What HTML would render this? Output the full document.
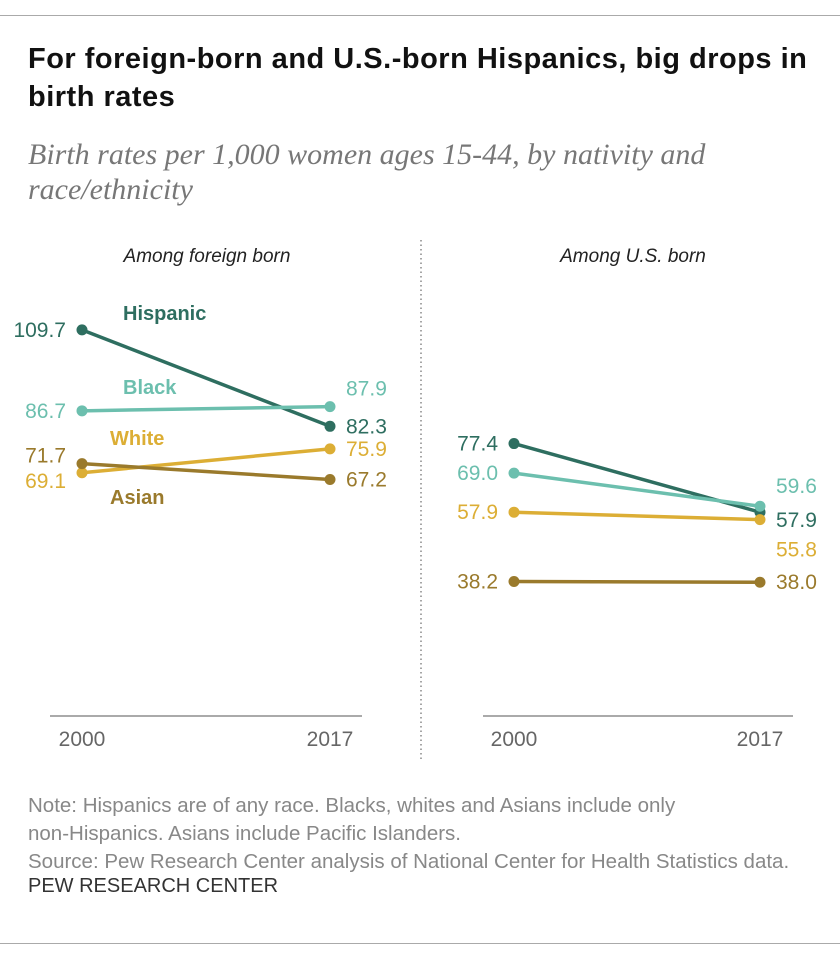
<!DOCTYPE html>
<html><head><meta charset="utf-8"><style>
body{margin:0;background:#fff;font-family:"Liberation Sans",sans-serif;}
#wrap{position:relative;width:840px;height:960px;overflow:hidden;}
.t{position:absolute;white-space:nowrap;}
</style></head><body>
<div id="wrap">
<div class="t" style="left:0;top:15px;width:840px;height:1px;background:#aaa"></div>
<div class="t" style="left:28px;top:40px;font-size:29px;font-weight:bold;line-height:38px;color:#111;letter-spacing:0.5px">For foreign-born and U.S.-born Hispanics, big drops in<br>birth rates</div>
<div class="t" style="left:28px;top:137px;font-family:'Liberation Serif',serif;font-style:italic;font-size:30px;line-height:35px;color:#777">Birth rates per 1,000 women ages 15-44, by nativity and<br>race/ethnicity</div>
<svg id="chart" width="840" height="960" style="position:absolute;left:0;top:0"></svg>
<div class="t" style="left:28px;top:792px;font-size:20.5px;line-height:28px;color:#888">Note: Hispanics are of any race. Blacks, whites and Asians include only<br>non-Hispanics. Asians include Pacific Islanders.<br>Source: Pew Research Center analysis of National Center for Health Statistics data.</div>
<div class="t" style="left:28px;top:875px;font-size:20px;color:#333">PEW RESEARCH CENTER</div>
<div class="t" style="left:0;top:943px;width:840px;height:1px;background:#aaa"></div>
</div>
<script>
const years=["2000","2017"];
const series=["Hispanic","Black","White","Asian"];
const colors=["#2e6e60","#6cbfae","#dcae35","#9a7a2c"];
const foreignVals=[[109.7,82.3],[86.7,87.9],[69.1,75.9],[71.7,67.2]];
const usVals=[[77.4,57.9],[69.0,59.6],[57.9,55.8],[38.2,38.0]];
const svg=document.getElementById('chart');
const NS='http://www.w3.org/2000/svg';
function y(v){return 716-v*3.52;}
function mk(tag,attrs,txt){const e=document.createElementNS(NS,tag);for(const k in attrs)e.setAttribute(k,attrs[k]);if(txt!==undefined)e.textContent=txt;svg.appendChild(e);return e;}
const panels=[{x0:82,x1:330,ax0:50,ax1:362,vals:foreignVals,title:"Among foreign born",tx:207,name:"foreign"},
{x0:514,x1:760,ax0:483,ax1:793,vals:usVals,title:"Among U.S. born",tx:633,name:"us"}];
const lblL={foreign:[0,0,8,-8],us:[0,0,0,0]};
const lblRdy={foreign:[0,-18,0,0],us:[8,-20,30,0]};
panels.forEach(p=>{
  let e=mk('line',{x1:p.ax0,x2:p.ax1,y1:716,y2:716,stroke:'#555','stroke-width':1});
  
  years.forEach((yr,i)=>{e=mk('text',{x:i?p.x1:p.x0,y:746,'text-anchor':'middle','font-size':21,fill:'#666'},yr);
    });
  e=mk('text',{x:p.tx,y:262,'text-anchor':'middle','font-size':19,'font-style':'italic',fill:'#222'},p.title);
  
  p.vals.forEach((v,s)=>{
    e=mk('line',{x1:p.x0,x2:p.x1,y1:y(v[0]),y2:y(v[1]),stroke:colors[s],'stroke-width':3.5});
    
    [0,1].forEach(i=>{
      e=mk('circle',{cx:i?p.x1:p.x0,cy:y(v[i]),r:5.5,fill:colors[s]});
      
    });
    e=mk('text',{x:p.x0-16,y:y(v[0])+7+lblL[p.name][s],'text-anchor':'end','font-size':21,fill:colors[s]},v[0].toFixed(1));
    
    e=mk('text',{x:p.x1+16,y:y(v[1])+7+lblRdy[p.name][s],'text-anchor':'start','font-size':21,fill:colors[s]},v[1].toFixed(1));
    
  });
});
const nameX=[123,123,110,110],nameY=[320,394,445,504];
series.forEach((s,i)=>{const e=mk('text',{x:nameX[i],y:nameY[i],'font-size':20,'font-weight':'bold',fill:colors[i]},s);
  });
const d=mk('line',{x1:421,x2:421,y1:240,y2:762,stroke:'#888','stroke-width':1.5,'stroke-dasharray':'1.5 3'});

</script>
</body></html>
